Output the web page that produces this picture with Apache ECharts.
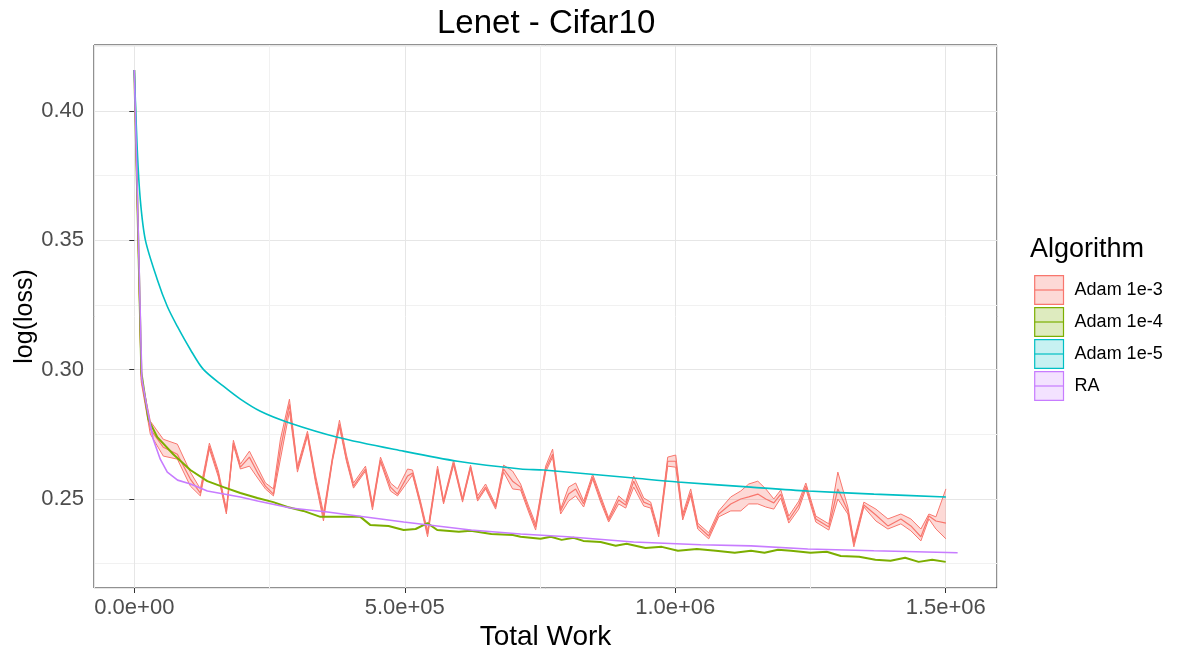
<!DOCTYPE html>
<html>
<head>
<meta charset="utf-8">
<title>Lenet - Cifar10</title>
<script src="https://cdn.jsdelivr.net/npm/echarts@6/dist/echarts.min.js"></script>
<style>
  html, body { margin: 0; padding: 0; background: #fff; }
  #main { width: 1188px; height: 652px; }
</style>
</head>
<body>
<div id="main"></div>
<script>
// Adam 1e-3 : mean line + ribbon (low / high)
const workAdam3 = [0, 12900, 29600, 53600, 79600, 103600, 122100, 138800, 155400, 170200,
  183200, 196100, 212800, 229400, 242400, 257200, 270100, 286800, 301600, 320100,
  334900, 349700, 366300, 379300, 392200, 405200, 427400, 440300, 455100, 473600,
  486600, 505100, 514300, 529100, 542100, 560600, 571700, 590200, 606800, 621600,
  634600, 649400, 667900, 682700, 699300, 714100, 728900, 741900, 760400, 773300,
  788100, 802900, 815900, 830700, 847300, 862100, 876900, 895400, 908400, 923200,
  941700, 954600, 969400, 986100, 1000900, 1013800, 1028600, 1041600, 1061900, 1080400,
  1102600, 1121100, 1135900, 1152600, 1167400, 1182200, 1195100, 1209900, 1228400, 1241400,
  1259900, 1283900, 1300600, 1319100, 1330200, 1348700, 1370900, 1393100, 1417100, 1435600,
  1454100, 1468900, 1481900, 1500400];
const adam3Mean = [0.4158, 0.2963, 0.2770, 0.2700, 0.2673, 0.2577, 0.2523, 0.2704, 0.2596, 0.2450,
  0.2716, 0.2623, 0.2662, 0.2596, 0.2550, 0.2519, 0.2693, 0.2866, 0.2616, 0.2751,
  0.2577, 0.2431, 0.2654, 0.2789, 0.2654, 0.2550, 0.2616, 0.2469, 0.2650, 0.2546,
  0.2519, 0.2589, 0.2600, 0.2481, 0.2365, 0.2616, 0.2488, 0.2639, 0.2496, 0.2623,
  0.2500, 0.2546, 0.2469, 0.2616, 0.2569, 0.2546, 0.2461, 0.2392, 0.2616, 0.2673,
  0.2454, 0.2519, 0.2539, 0.2481, 0.2585, 0.2500, 0.2419, 0.2496, 0.2477, 0.2569,
  0.2488, 0.2477, 0.2365, 0.2646, 0.2646, 0.2431, 0.2523, 0.2396, 0.2357, 0.2442,
  0.2481, 0.2500, 0.2508, 0.2519, 0.2500, 0.2485, 0.2519, 0.2419, 0.2477, 0.2550,
  0.2423, 0.2392, 0.2539, 0.2454, 0.2327, 0.2477, 0.2438, 0.2396, 0.2423, 0.2396,
  0.2354, 0.2434, 0.2415, 0.2407];
const adam3Low = [0.4158, 0.2951, 0.2751, 0.2666, 0.2654, 0.2550, 0.2512, 0.2693, 0.2585, 0.2442,
  0.2708, 0.2616, 0.2627, 0.2577, 0.2539, 0.2512, 0.2654, 0.2839, 0.2604, 0.2743,
  0.2566, 0.2415, 0.2646, 0.2778, 0.2646, 0.2542, 0.2608, 0.2458, 0.2643, 0.2531,
  0.2512, 0.2566, 0.2593, 0.2473, 0.2354, 0.2608, 0.2481, 0.2631, 0.2488, 0.2616,
  0.2492, 0.2539, 0.2461, 0.2604, 0.2539, 0.2535, 0.2450, 0.2380, 0.2604, 0.2662,
  0.2442, 0.2492, 0.2512, 0.2469, 0.2577, 0.2488, 0.2411, 0.2481, 0.2465, 0.2546,
  0.2473, 0.2465, 0.2354, 0.2627, 0.2623, 0.2419, 0.2512, 0.2384, 0.2346, 0.2431,
  0.2454, 0.2454, 0.2481, 0.2481, 0.2469, 0.2461, 0.2504, 0.2407, 0.2461, 0.2539,
  0.2411, 0.2380, 0.2500, 0.2442, 0.2315, 0.2469, 0.2415, 0.2384, 0.2404, 0.2377,
  0.2338, 0.2423, 0.2384, 0.2346];
const adam3High = [0.4158, 0.2974, 0.2801, 0.2731, 0.2712, 0.2604, 0.2539, 0.2716, 0.2608, 0.2461,
  0.2727, 0.2635, 0.2685, 0.2616, 0.2562, 0.2539, 0.2731, 0.2886, 0.2627, 0.2762,
  0.2593, 0.2446, 0.2662, 0.2805, 0.2670, 0.2562, 0.2627, 0.2481, 0.2662, 0.2562,
  0.2539, 0.2616, 0.2612, 0.2492, 0.2377, 0.2627, 0.2496, 0.2650, 0.2504, 0.2631,
  0.2512, 0.2558, 0.2477, 0.2631, 0.2608, 0.2558, 0.2473, 0.2404, 0.2627, 0.2693,
  0.2461, 0.2546, 0.2562, 0.2492, 0.2596, 0.2512, 0.2427, 0.2512, 0.2488, 0.2589,
  0.2504, 0.2488, 0.2377, 0.2662, 0.2670, 0.2442, 0.2539, 0.2407, 0.2369, 0.2454,
  0.2508, 0.2531, 0.2558, 0.2569, 0.2539, 0.2500, 0.2535, 0.2434, 0.2492, 0.2562,
  0.2434, 0.2404, 0.2604, 0.2469, 0.2338, 0.2488, 0.2461, 0.2423, 0.2442, 0.2423,
  0.2384, 0.2442, 0.2431, 0.2539];

// Adam 1e-4
const workAdam4 = [0, 13000, 26000, 42500, 72000, 103600, 135000, 165000, 196000, 227500,
  257000, 283000, 312500, 344000, 380000, 418000, 436000, 470000, 498000, 520000,
  542000, 560000, 600000, 622000, 660000, 700000, 714000, 751000, 770000, 790000,
  812000, 830000, 862000, 890000, 910000, 945000, 975000, 1005000, 1040000, 1075000,
  1110000, 1140000, 1165000, 1190000, 1214000, 1250000, 1280000, 1306000, 1340000, 1370000,
  1398000, 1425000, 1450000, 1475000, 1500000];
const adam4 = [0.4158, 0.2990, 0.2808, 0.2739, 0.2673, 0.2612, 0.2569, 0.2546, 0.2523, 0.2504,
  0.2488, 0.2469, 0.2454, 0.2431, 0.2431, 0.2431, 0.2400, 0.2396, 0.2380, 0.2384,
  0.2407, 0.2380, 0.2373, 0.2377, 0.2365, 0.2361, 0.2354, 0.2346, 0.2354, 0.2342,
  0.2350, 0.2338, 0.2334, 0.2319, 0.2327, 0.2311, 0.2315, 0.2300, 0.2307, 0.2300,
  0.2292, 0.2300, 0.2292, 0.2304, 0.2300, 0.2292, 0.2296, 0.2280, 0.2277, 0.2265,
  0.2261, 0.2273, 0.2257, 0.2265, 0.2257];

// Adam 1e-5
const workAdam5 = [0, 5500, 11100, 20400, 42600, 61100, 79600, 103600, 127700, 164700,
  196100, 233100, 283100, 375600, 497700, 597600, 714100, 756700, 923200, 1004600,
  1139600, 1245100, 1367200, 1500400];
const adam5 = [0.4158, 0.3849, 0.3657, 0.3502, 0.3348, 0.3244, 0.3167, 0.3078, 0.3001, 0.2936,
  0.2886, 0.2839, 0.2797, 0.2739, 0.2685, 0.2646, 0.2616, 0.2612, 0.2581, 0.2566,
  0.2546, 0.2531, 0.2519, 0.2508];

// RA
const workRA = [0, 14000, 24000, 35000, 48000, 61000, 80000, 104000, 135000, 196000,
  228000, 289000, 357000, 498000, 622000, 714000, 801000, 923000, 1047000, 1140000,
  1245000, 1367000, 1522000];
const ra = [0.4158, 0.2963, 0.2847, 0.2731, 0.2654, 0.2604, 0.2573, 0.2558, 0.2531, 0.2508,
  0.2492, 0.2465, 0.2450, 0.2411, 0.2380, 0.2365, 0.2354, 0.2334, 0.2323, 0.2319,
  0.2307, 0.2300, 0.2292];

const algoNames = ['Adam 1e-3', 'Adam 1e-4', 'Adam 1e-5', 'RA'];
const algoColors = ['#F8766D', '#7CAE00', '#00BFC4', '#C77CFF'];
const algoFills = ['rgba(248,118,109,0.28)', 'rgba(124,174,0,0.25)', 'rgba(0,191,196,0.22)', 'rgba(199,124,255,0.22)'];

function zip(xs, ys) {
  return xs.map((x, i) => [x, ys[i]]);
}

// 0.0e+00 style labels like R
function sci(v) {
  if (v === 0) return '0.0e+00';
  let e = Math.floor(Math.log10(Math.abs(v)) + 1e-9);
  let m = v / Math.pow(10, e);
  return m.toFixed(1) + 'e' + (e < 0 ? '-' : '+') + String(Math.abs(e)).padStart(2, '0');
}

const FONT = '"Liberation Sans", Arial, sans-serif';

let myChart = echarts.init(document.getElementById('main'));

// ribbon polygon (drawn once, low edge forward then high edge back)
function renderBand(params, api) {
  if (params.dataIndex !== 0) return null;
  let pts = [];
  for (let i = 0; i < workAdam3.length; i++) pts.push(api.coord([workAdam3[i], adam3Low[i]]));
  for (let i = workAdam3.length - 1; i >= 0; i--) pts.push(api.coord([workAdam3[i], adam3High[i]]));
  return {
    type: 'polygon',
    shape: { points: pts },
    style: { fill: algoFills[0], stroke: null }
  };
}

let option = {
  animation: false,
  textStyle: { fontFamily: FONT },
  title: [
    {
      text: 'Lenet - Cifar10',
      left: 432, top: 2,
      textStyle: { fontFamily: FONT, fontSize: 33, fontWeight: 'normal', color: '#000' }
    },
    {
      text: 'Algorithm',
      left: 1025, top: 231,
      textStyle: { fontFamily: FONT, fontSize: 27, fontWeight: 'normal', color: '#000' }
    }
  ],
  legend: {
    orient: 'vertical',
    left: 1029, top: 270,
    itemWidth: 29, itemHeight: 36, itemGap: 2,
    textStyle: { fontFamily: FONT, fontSize: 18, color: '#000', padding: [0, 0, 0, 6] },
    data: algoNames.map((n, i) => ({
      name: n,
      itemStyle: { color: algoFills[i], borderColor: algoColors[i], borderWidth: 1.2 },
      lineStyle: { color: algoColors[i], width: 1.2 }
    }))
  },
  grid: {
    left: 94, right: 191, top: 45, bottom: 64,
    outerBoundsMode: 'none',
    show: true, borderColor: '#222', borderWidth: 1, backgroundColor: 'transparent'
  },
  xAxis: {
    type: 'value',
    min: -74500, max: 1594800,
    splitNumber: 3,
    name: 'Total Work', nameLocation: 'middle', nameGap: 35, nameMoveOverlap: false,
    nameTextStyle: { fontFamily: FONT, fontSize: 28, color: '#000' },
    axisLine: { show: false },
    axisTick: { show: true, length: 5, lineStyle: { color: '#333' } },
    axisLabel: {
      fontFamily: FONT, fontSize: 22, color: '#4D4D4D', margin: 9,
      showMinLabel: false, showMaxLabel: false,
      formatter: sci
    },
    splitLine: { show: true, lineStyle: { color: '#E6E6E6', width: 1 } },
    minorTick: { show: false, splitNumber: 2 },
    minorSplitLine: { show: true, lineStyle: { color: '#F1F1F1', width: 1 } }
  },
  yAxis: {
    type: 'value',
    min: 0.2156, max: 0.4255,
    splitNumber: 4,
    name: 'log(loss)', nameLocation: 'middle', nameGap: 56, nameMoveOverlap: false,
    nameTextStyle: { fontFamily: FONT, fontSize: 25, color: '#000' },
    axisLine: { show: false },
    axisTick: { show: true, length: 5, lineStyle: { color: '#333' } },
    axisLabel: {
      fontFamily: FONT, fontSize: 22, color: '#4D4D4D', margin: 10,
      showMinLabel: false, showMaxLabel: false,
      formatter: v => v.toFixed(2)
    },
    splitLine: { show: true, lineStyle: { color: '#E6E6E6', width: 1 } },
    minorTick: { show: false, splitNumber: 2 },
    minorSplitLine: { show: true, lineStyle: { color: '#F1F1F1', width: 1 } }
  },
  series: [
    {
      name: 'Adam 1e-3 band', type: 'custom', silent: true, z: 1,
      data: workAdam3.map((x, i) => [x, adam3Low[i], adam3High[i]]),
      encode: { x: 0, y: [1, 2] },
      renderItem: renderBand
    },
    {
      name: 'Adam 1e-3 low', type: 'line', data: zip(workAdam3, adam3Low),
      symbol: 'none', silent: true, z: 2,
      lineStyle: { color: algoColors[0], width: 1 }
    },
    {
      name: 'Adam 1e-3 high', type: 'line', data: zip(workAdam3, adam3High),
      symbol: 'none', silent: true, z: 2,
      lineStyle: { color: algoColors[0], width: 1 }
    },
    {
      name: 'Adam 1e-3', type: 'line', data: zip(workAdam3, adam3Mean),
      symbol: 'rect', showSymbol: false, silent: true, z: 2,
      itemStyle: { color: algoColors[0] },
      lineStyle: { color: algoColors[0], width: 1.2 }
    },
    {
      name: 'Adam 1e-4', type: 'line', data: zip(workAdam4, adam4),
      symbol: 'rect', showSymbol: false, silent: true, z: 3,
      itemStyle: { color: algoColors[1] },
      lineStyle: { color: algoColors[1], width: 2 }
    },
    {
      name: 'Adam 1e-5', type: 'line', data: zip(workAdam5, adam5),
      symbol: 'rect', showSymbol: false, silent: true, smooth: 0.3, z: 3,
      itemStyle: { color: algoColors[2] },
      lineStyle: { color: algoColors[2], width: 1.6 }
    },
    {
      name: 'RA', type: 'line', data: zip(workRA, ra),
      symbol: 'rect', showSymbol: false, silent: true, z: 3,
      itemStyle: { color: algoColors[3] },
      lineStyle: { color: algoColors[3], width: 1.6 }
    }
  ]
};

myChart.setOption(option);
</script>
</body>
</html>
